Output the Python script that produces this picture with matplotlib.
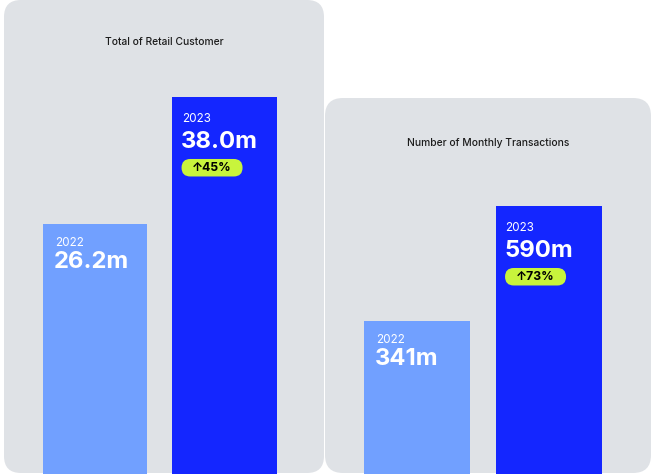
import matplotlib
matplotlib.use("Agg")
import matplotlib.pyplot as plt
from matplotlib.patches import FancyBboxPatch

# ---- data ----
years = ["2022", "2023"]
customers = [26.2, 38.0]
customer_labels = ["26.2m", "38.0m"]
customer_growth = "↑45%"
transactions = [341, 590]
transaction_labels = ["341m", "590m"]
transaction_growth = "↑73%"
titles = ["Total of Retail Customer", "Number of Monthly Transactions"]

W, H = 652, 474
PANEL = "#dfe2e6"
LIGHT = "#71a0ff"
DARK = "#1426ff"
PILL = "#c8f43c"
FONT = ["Inter", "DejaVu Sans"]

fig = plt.figure(figsize=(W / 100, H / 100), dpi=100)
fig.patch.set_facecolor("white")


def pixel_axes(z):
    a = fig.add_axes([0, 0, 1, 1], zorder=z)
    a.set_xlim(0, W)
    a.set_ylim(H, 0)
    a.axis("off")
    a.patch.set_alpha(0)
    return a


bg = pixel_axes(0)
fg = pixel_axes(10)


def panel(x0, y0, x1, y1, r):
    p = FancyBboxPatch((x0 + r, y0 + r), (x1 - x0) - 2 * r, (y1 - y0) - 2 * r,
                       boxstyle=f"round,pad={r},rounding_size={r}",
                       fc=PANEL, ec="none", zorder=0)
    bg.add_patch(p)


panel(4, 0, 324, 473, 17)
panel(325, 98, 651, 473, 18)

bg.text(164, 44.7, titles[0], ha="center", va="baseline", fontsize=7.4,
        family=FONT, fontweight="medium", color="#1c1c1c", zorder=5)
bg.text(488, 146, titles[1], ha="center", va="baseline", fontsize=7.4,
        family=FONT, fontweight="medium", color="#1c1c1c", zorder=5)


def bar_axes(px_left, px_right, ylim):
    ax = fig.add_axes([px_left / W, 0, (px_right - px_left) / W, 1], zorder=5)
    ax.set_xlim(-0.5, 1.5)
    ax.set_ylim(*ylim)
    ax.axis("off")
    ax.patch.set_alpha(0)
    return ax


def draw_panel(ax, values, labels, growth):
    bars = ax.bar([0, 1], values, width=0.81, color=[LIGHT, DARK], zorder=2)
    for i, (b, lab) in enumerate(zip(bars, labels)):
        dx, dy = ax.transData.transform((b.get_x(), b.get_height()))
        px, py = dx, H - dy  # image pixel coords
        if i == 0:
            yb, vb, xo = 22, 44.5, 12.5
        else:
            yb, vb, xo = 25, 51, 10
        fg.text(px + xo, py + yb, years[i], ha="left", va="baseline",
                fontsize=8.4, family=FONT, color="white", zorder=6)
        fg.text(px + xo - 1, py + vb, lab, ha="left", va="baseline",
                fontsize=17.2, family=FONT, fontweight="bold", color="white",
                zorder=6)
        if i == 1:
            h = 17.5
            w = 61
            x0 = px + 9.5
            y0 = py + 62
            r = h / 2
            pill = FancyBboxPatch((x0 + r, y0 + r), w - 2 * r, 0.001,
                                  boxstyle=f"round,pad={r - 0.0005},rounding_size={r}",
                                  fc=PILL, ec="none", zorder=6)
            fg.add_patch(pill)
            fg.text(x0 + w / 2, y0 + h / 2 + 0.5, growth, ha="center", va="center",
                    fontsize=8.8, family=FONT, fontweight="bold", color="black",
                    zorder=7)


ax1 = bar_axes(30.25, 289.25, (2.97, 47.01))
draw_panel(ax1, customers, customer_labels, customer_growth)

ax2 = bar_axes(351, 615, (9.7, 1036))
draw_panel(ax2, transactions, transaction_labels, transaction_growth)

fig.savefig("out.png", dpi=100, facecolor="white")
